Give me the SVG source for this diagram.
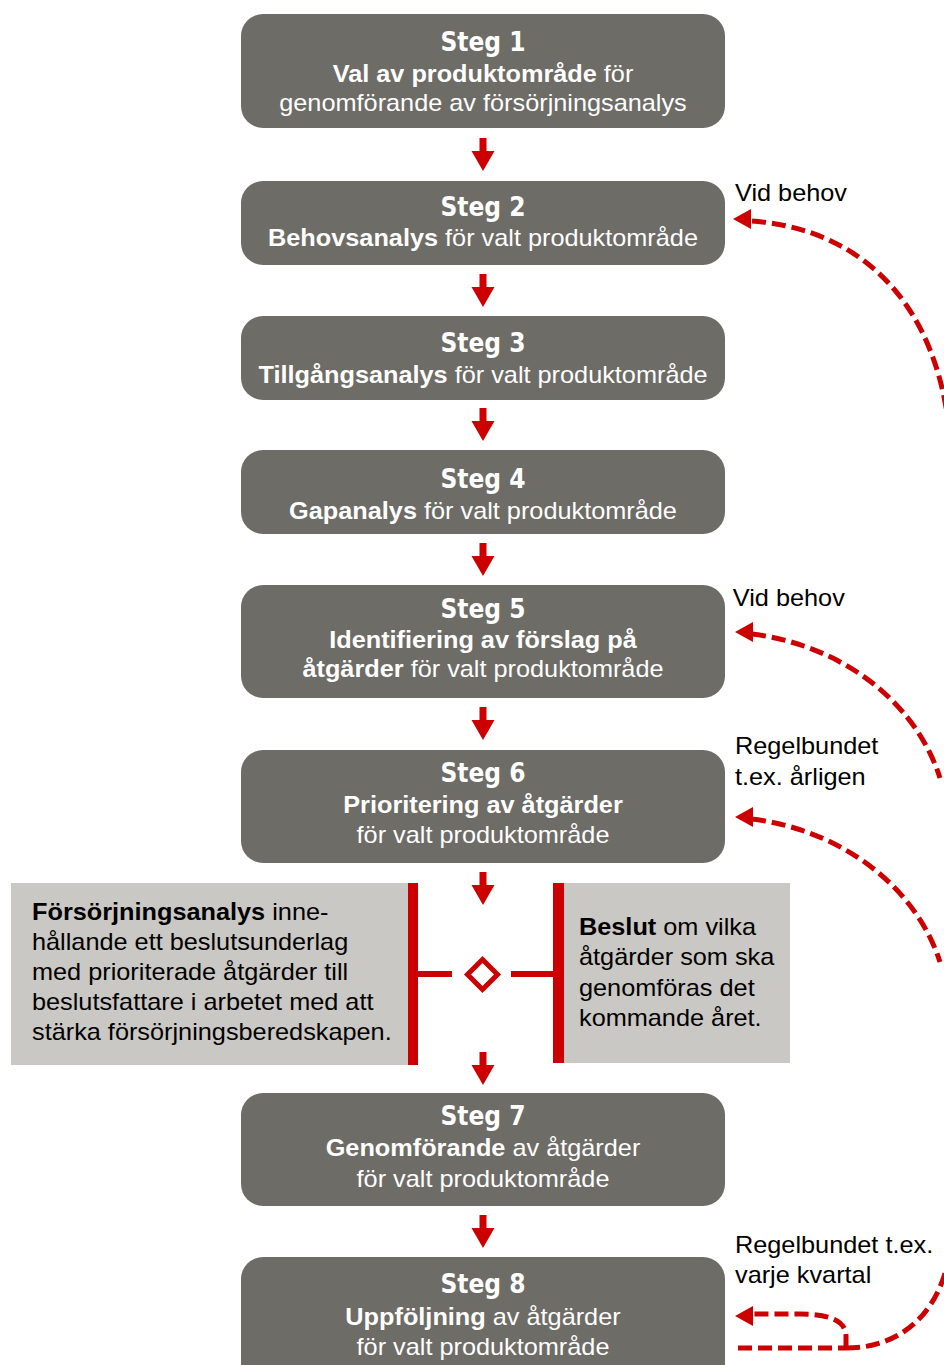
<svg xmlns="http://www.w3.org/2000/svg" xmlns:xlink="http://www.w3.org/1999/xlink" width="944" height="1365" viewBox="0 0 944 1365">
<style>
.box{fill:#6e6c66}
.gbox{fill:#cac8c4}
.title{font-family:"DejaVu Sans Condensed","DejaVu Sans",sans-serif;font-stretch:condensed;font-weight:bold;font-size:26px;fill:#fff;text-anchor:middle}
.body{font-family:"Liberation Sans",Arial,sans-serif;font-size:23px;fill:#fff;text-anchor:middle}
.dark{font-family:"Liberation Sans",Arial,sans-serif;font-size:23px;fill:#000}
.b{font-weight:bold}
.dash{fill:none;stroke:#cc0000;stroke-width:5;stroke-dasharray:14 6}
.red{fill:#cc0000}
</style>
<defs>
<path id="arr" d="M-3.5,0 H3.5 V13 H11.5 L0,33 L-11.5,13 H-3.5 Z" fill="#cc0000"/>
</defs>
<rect width="944" height="1365" fill="#fff"/>

<g id="step1">
<rect class="box" x="241" y="14" width="484" height="114" rx="22"/>
<text class="title" x="483" y="51">Steg 1</text>
<g transform="translate(483 0) scale(1.1 1)">
<text class="body" x="0" y="82"><tspan class="b">Val av produktområde</tspan> för</text>
<text class="body" x="0" y="111">genomförande av försörjningsanalys</text>
</g>
</g>

<g id="step2">
<rect class="box" x="241" y="181" width="484" height="84" rx="22"/>
<text class="title" x="483" y="216">Steg 2</text>
<g transform="translate(483 0) scale(1.1 1)">
<text class="body" x="0" y="246"><tspan class="b">Behovsanalys</tspan> för valt produktområde</text>
</g>
</g>

<g id="step3">
<rect class="box" x="241" y="316" width="484" height="84" rx="22"/>
<text class="title" x="483" y="352">Steg 3</text>
<g transform="translate(483 0) scale(1.1 1)">
<text class="body" x="0" y="383"><tspan class="b">Tillgångsanalys</tspan> för valt produktområde</text>
</g>
</g>

<g id="step4">
<rect class="box" x="241" y="450" width="484" height="84" rx="22"/>
<text class="title" x="483" y="488">Steg 4</text>
<g transform="translate(483 0) scale(1.1 1)">
<text class="body" x="0" y="519"><tspan class="b">Gapanalys</tspan> för valt produktområde</text>
</g>
</g>

<g id="step5">
<rect class="box" x="241" y="585" width="484" height="113" rx="22"/>
<text class="title" x="483" y="618">Steg 5</text>
<g transform="translate(483 0) scale(1.1 1)">
<text class="body b" x="0" y="648">Identifiering av förslag på</text>
<text class="body" x="0" y="677"><tspan class="b">åtgärder</tspan> för valt produktområde</text>
</g>
</g>

<g id="step6">
<rect class="box" x="241" y="750" width="484" height="113" rx="22"/>
<text class="title" x="483" y="782">Steg 6</text>
<g transform="translate(483 0) scale(1.1 1)">
<text class="body b" x="0" y="813">Prioritering av åtgärder</text>
<text class="body" x="0" y="843">för valt produktområde</text>
</g>
</g>

<g id="analysis">
<rect class="gbox" x="11" y="883" width="400" height="182"/>
<g transform="translate(32 0) scale(1.1 1)">
<text class="dark" x="0" y="920"><tspan class="b">Försörjningsanalys</tspan> inne-</text>
<text class="dark" x="0" y="950">hållande ett beslutsunderlag</text>
<text class="dark" x="0" y="980">med prioriterade åtgärder till</text>
<text class="dark" x="0" y="1010">beslutsfattare i arbetet med att</text>
<text class="dark" x="0" y="1040">stärka försörjningsberedskapen.</text>
</g>
</g>

<g id="decision">
<rect class="gbox" x="560" y="883" width="230" height="180"/>
<g transform="translate(579 0) scale(1.1 1)">
<text class="dark" x="0" y="935"><tspan class="b">Beslut</tspan> om vilka</text>
<text class="dark" x="0" y="965">åtgärder som ska</text>
<text class="dark" x="0" y="996">genomföras det</text>
<text class="dark" x="0" y="1026">kommande året.</text>
</g>
</g>

<g id="junction">
<rect class="red" x="408" y="883" width="10" height="182"/>
<rect class="red" x="553" y="883" width="11" height="180"/>
<rect class="red" x="418" y="971" width="34" height="6"/>
<rect class="red" x="511" y="971" width="42" height="6"/>
<path d="M482.5,959.5 L497.5,974.5 L482.5,989.5 L467.5,974.5 Z" fill="#fff" stroke="#cc0000" stroke-width="5"/>
</g>

<g id="step7">
<rect class="box" x="241" y="1093" width="484" height="113" rx="22"/>
<text class="title" x="483" y="1125">Steg 7</text>
<g transform="translate(483 0) scale(1.1 1)">
<text class="body" x="0" y="1156"><tspan class="b">Genomförande</tspan> av åtgärder</text>
<text class="body" x="0" y="1187">för valt produktområde</text>
</g>
</g>

<g id="step8">
<rect class="box" x="241" y="1257" width="484" height="130" rx="22"/>
<text class="title" x="483" y="1293">Steg 8</text>
<g transform="translate(483 0) scale(1.1 1)">
<text class="body" x="0" y="1325"><tspan class="b">Uppföljning</tspan> av åtgärder</text>
<text class="body" x="0" y="1355">för valt produktområde</text>
</g>
</g>

<g id="labels">
<g transform="translate(735 0) scale(1.1 1)">
<text class="dark" x="0" y="201">Vid behov</text>
<text class="dark" x="-2" y="606">Vid behov</text>
<text class="dark" x="0" y="754">Regelbundet</text>
<text class="dark" x="0" y="785">t.ex. årligen</text>
<text class="dark" x="0" y="1253">Regelbundet t.ex.</text>
<text class="dark" x="0" y="1283">varje kvartal</text>
</g>
</g>

<g id="connectors">
<use xlink:href="#arr" x="483" y="138"/>
<use xlink:href="#arr" x="483" y="274"/>
<use xlink:href="#arr" x="483" y="408"/>
<use xlink:href="#arr" x="483" y="543"/>
<use xlink:href="#arr" x="483" y="707"/>
<use xlink:href="#arr" x="483" y="872"/>
<use xlink:href="#arr" x="483" y="1052"/>
<use xlink:href="#arr" x="483" y="1215"/>

<path class="dash" d="M752,221 C850,228 930,290 948,420"/>
<path class="red" d="M733,219 L751,209 L751,229 Z"/>

<path class="dash" d="M752,634 C840,645 915,700 940,778"/>
<path class="red" d="M735,632 L753,622 L753,642 Z"/>

<path class="dash" d="M752,819 C840,830 915,885 940,962"/>
<path class="red" d="M735,817 L753,807 L753,827 Z"/>

<path class="dash" d="M738,1348 L846,1348"/>
<path class="dash" d="M846,1348 C895,1348 935,1320 948,1262"/>
<path class="dash" d="M846,1348 L846,1336 C846,1322 832,1314 800,1314 L752,1314"/>
<path class="red" d="M735,1316 L753,1306 L753,1326 Z"/>
</g>
</svg>
